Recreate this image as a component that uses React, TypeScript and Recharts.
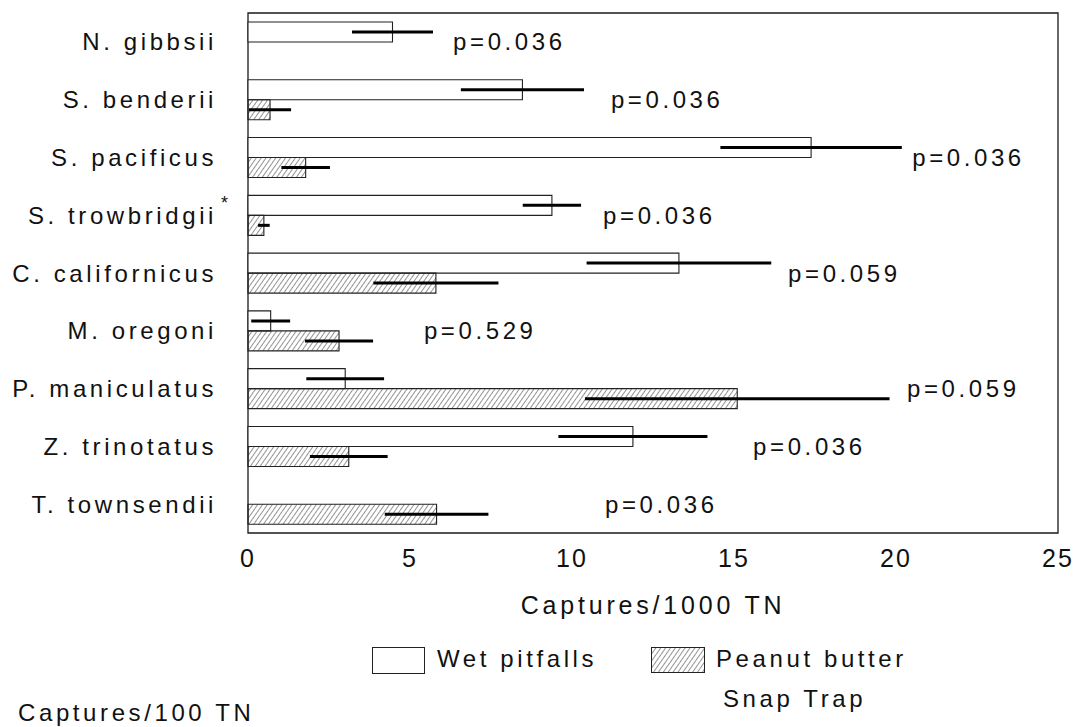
import { ComposedChart, Bar, XAxis, YAxis, ErrorBar, ReferenceArea, ReferenceDot, Legend } from "recharts";

const species = [
  "N. gibbsii",
  "S. benderii",
  "S. pacificus",
  "S. trowbridgii",
  "C. californicus",
  "M. oregoni",
  "P. maniculatus",
  "Z. trinotatus",
  "T. townsendii",
];
const wetPitfalls = [4.46, 8.47, 17.38, 9.38, 13.3, 0.7, 3.0, 11.88, 0];
const wetPitfallsErr = [1.25, 1.9, 2.8, 0.9, 2.85, 0.6, 1.2, 2.3, 0];
const peanutButter = [0, 0.68, 1.78, 0.49, 5.8, 2.81, 15.1, 3.11, 5.82];
const peanutButterErr = [0, 0.65, 0.75, 0.18, 1.93, 1.05, 4.7, 1.2, 1.6];
const pValues = ["p=0.036", "p=0.036", "p=0.036", "p=0.036", "p=0.059", "p=0.529", "p=0.059", "p=0.036", "p=0.036"];
// where each p label starts, in Captures/1000 TN
const pLabelAt = [6.33, 11.2, 20.5, 10.96, 16.67, 5.43, 20.34, 15.59, 11.02];
const starred = ["S. trowbridgii"];
const xTicks = [0, 5, 10, 15, 20, 25];

const FONT = '"Liberation Sans", Arial, Helvetica, sans-serif';
const INK = "#111";

const data = species.map((name, i) => ({
  name,
  wet: wetPitfalls[i],
  wetErr: wetPitfallsErr[i],
  peanut: peanutButter[i],
  peanutErr: peanutButterErr[i],
}));

// species label with the little superscript star
const SpeciesTick = (props: any) => {
  const { x, y, payload } = props;
  return (
    <g>
      <text
        x={x}
        y={y}
        textAnchor="end"
        dominantBaseline="central"
        fontFamily={FONT}
        fontSize={24}
        letterSpacing={3.6}
        fill={INK}
      >
        {payload.value}
      </text>
      {starred.includes(payload.value) && (
        <text x={x + 4} y={y - 6} fontFamily={FONT} fontSize={18} fill={INK}>
          *
        </text>
      )}
    </g>
  );
};

const pLabel = (text: string) => (props: any) => {
  const vb = props.viewBox || {};
  const cx = (vb.x || 0) + (vb.width || 0) / 2;
  const cy = (vb.y || 0) + (vb.height || 0) / 2;
  return (
    <text
      x={cx}
      y={cy}
      dominantBaseline="central"
      fontFamily={FONT}
      fontSize={24}
      letterSpacing={3.6}
      fill={INK}
    >
      {text}
    </text>
  );
};

const legendText = {
  position: "absolute" as const,
  fontFamily: FONT,
  fontSize: 24,
  letterSpacing: 3.6,
  color: INK,
  whiteSpace: "nowrap" as const,
  lineHeight: "26px",
};

const TrapLegend = () => (
  <div style={{ position: "relative", width: 1078, height: 87 }}>
    <div style={{ position: "absolute", left: 372, top: 7, width: 51, height: 25, border: "1px solid #222", background: "#fff" }} />
    <div style={{ ...legendText, left: 437, top: 6 }}>Wet pitfalls</div>
    <svg style={{ position: "absolute", left: 651, top: 7 }} width={55} height={27}>
      <rect x={0.5} y={0.5} width={53} height={25} fill="url(#hatch)" stroke="#222" />
    </svg>
    <div style={{ ...legendText, left: 716, top: 6 }}>Peanut butter</div>
    <div style={{ ...legendText, left: 723, top: 46 }}>Snap Trap</div>
    <div style={{ ...legendText, left: 18, top: 60 }}>Captures/100 TN</div>
  </div>
);

export default function App() {
  return (
    <div style={{ position: "absolute", left: 0, top: 0, width: 1078, height: 727, background: "#fff", overflow: "hidden" }}>
      <ComposedChart
        width={1078}
        height={727}
        data={data}
        layout="vertical"
        margin={{ top: 13, right: 20, bottom: 104, left: 0 }}
        barGap={0}
        barSize={20}
      >
        <defs>
          <pattern id="hatch" width="4" height="4" patternUnits="userSpaceOnUse" patternTransform="rotate(35)">
            <line x1="0" y1="0" x2="0" y2="4" stroke="#3a3a3a" strokeWidth="1.1" />
          </pattern>
        </defs>
        <XAxis
          type="number"
          domain={[0, 25]}
          ticks={xTicks}
          height={90}
          axisLine={false}
          tickLine={false}
          tickSize={0}
          tickMargin={16}
          tick={{ fontSize: 25, fill: INK, fontFamily: FONT, letterSpacing: 2 }}
          label={{
            value: "Captures/1000 TN",
            position: "insideTop",
            offset: 63,
            fontSize: 25,
            fill: INK,
            fontFamily: FONT,
            letterSpacing: 3.8,
          }}
        />
        <YAxis
          type="category"
          dataKey="name"
          width={248}
          axisLine={false}
          tickLine={false}
          tickSize={0}
          tickMargin={31}
          interval={0}
          tick={<SpeciesTick />}
        />
        <ReferenceArea x1={0} x2={25} fill="none" stroke="#1a1a1a" strokeWidth={1.3} ifOverflow="visible" />
        <Bar dataKey="wet" name="Wet pitfalls" fill="#fff" stroke="#222" strokeWidth={1.1} isAnimationActive={false}>
          <ErrorBar dataKey="wetErr" direction="x" width={0} stroke="#000" strokeWidth={3} />
        </Bar>
        <Bar dataKey="peanut" name="Peanut butter" fill="url(#hatch)" stroke="#222" strokeWidth={1.1} isAnimationActive={false}>
          <ErrorBar dataKey="peanutErr" direction="x" width={0} stroke="#000" strokeWidth={3} />
        </Bar>
        {species.map((name, i) => (
          <ReferenceDot
            key={name}
            x={pLabelAt[i]}
            y={name}
            r={0}
            fill="none"
            stroke="none"
            ifOverflow="visible"
            label={pLabel(pValues[i])}
          />
        ))}
        <Legend
          layout="horizontal"
          verticalAlign="middle"
          align="center"
          wrapperStyle={{ left: 0, top: 640, width: 1078, height: 87 }}
          content={() => <TrapLegend />}
        />
      </ComposedChart>
    </div>
  );
}
